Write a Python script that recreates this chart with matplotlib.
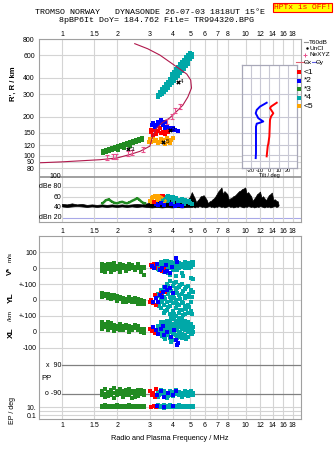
import numpy as np
import matplotlib
matplotlib.use('Agg')
import matplotlib.pyplot as plt

W, H = 335, 451
plt.rcParams['font.family'] = ['Liberation Sans', 'DejaVu Sans']
plt.rcParams['font.size'] = 5

RED, BLUE, GREEN, CYAN, ORANGE = '#ff0000', '#0000ff', '#228b22', '#00a8a8', '#ffa500'
CURVE, NEXYZ = '#b0184c', '#e8508c'
GRID, FRAME = '#d4d4d4', '#a0a0a0'

freq_ticks = [1, 1.5, 2, 3, 4, 5, 6, 7, 8, 10, 12, 14, 16, 18]
freq_labels = ['1', '1.5', '2', '3', '4', '5', '6', '7', '8', '10', '12', '14', '16', '18']
range_ticks = [80, 90, 100, 120, 150, 200, 300, 400, 600, 800]

# ---- upper panel: virtual range R' (km) vs frequency (MHz)
curve_f = [0.75, 1.0, 1.61, 2.0, 2.34, 2.66, 2.86, 3.01, 3.12, 3.24, 3.50, 3.86, 4.22, 4.55,
           4.84, 5.07, 5.02, 4.78, 4.38, 3.86, 3.41, 2.93, 2.49]
curve_r = [88, 89.5, 93, 96, 102, 108, 114, 118.5, 142, 160, 179, 196, 221, 246,
           284, 334, 385, 428, 468, 531, 601, 672, 736]

nexyz_f = [1.75, 1.89, 1.98, 2.29, 2.42, 2.75, 3.71, 3.95, 4.11, 4.38]
nexyz_r = [96, 98, 99, 104, 105, 112, 183, 202, 225, 239]

green_r_f = [1.67, 1.67, 1.73, 1.73, 1.80, 1.80, 1.87, 1.87, 1.94, 1.94, 2.02, 2.02, 2.02, 2.09, 2.09,
             2.17, 2.17, 2.17, 2.26, 2.26, 2.34, 2.34, 2.34, 2.43, 2.43, 2.53, 2.53, 2.62, 2.62, 2.72, 2.72]
green_r = [104.5, 108, 106.5, 110, 108, 112, 110, 114, 112, 116, 114, 118.5, 110, 116, 121,
           118.5, 123, 114, 121, 125, 123, 127, 118.5, 125, 130, 127, 132, 130, 134.5, 132, 137]

cyan_r_f = [3.33, 3.33, 3.41, 3.41, 3.50, 3.50, 3.50, 3.58, 3.58, 3.58, 3.67, 3.67, 3.67,
            3.77, 3.77, 3.77, 3.86, 3.86, 3.86, 3.96, 3.96, 3.96, 3.96, 4.06, 4.06, 4.06, 4.06,
            4.17, 4.17, 4.17, 4.17, 4.27, 4.27, 4.27, 4.27, 4.38, 4.38, 4.38, 4.38,
            4.49, 4.49, 4.49, 4.49, 4.60, 4.60, 4.60, 4.60, 4.72, 4.72, 4.72, 4.72,
            4.84, 4.84, 4.84, 4.84, 4.96, 4.96, 4.96, 5.09, 5.09]
cyan_r = [284, 294, 294, 311, 311, 328, 300, 322, 340, 311, 340, 358, 322,
          352, 371, 334, 371, 392, 352, 385, 406, 365, 428, 399, 421, 444, 378,
          421, 444, 468, 399, 436, 460, 485, 413, 460, 485, 512, 436,
          477, 503, 531, 452, 494, 521, 550, 468, 521, 550, 580, 494,
          540, 570, 601, 512, 560, 591, 623, 580, 612]

blue_r_f = [3.14, 3.35, 3.47, 3.71, 3.86, 4.11, 4.28, 3.21, 3.55, 3.47, 3.63, 3.63, 3.94, 4.02, 3.30, 3.09]
blue_r = [179, 183, 179, 168, 163, 158, 156, 168, 174, 188, 183, 163, 158, 163, 174, 174]
red_r_f = [3.07, 3.21, 3.27, 3.41, 3.55, 3.71, 3.14, 3.35, 3.47, 3.63, 3.04, 3.78]
red_r = [153, 158, 148, 163, 153, 158, 144, 156, 150, 148, 158, 153]
orange_r_f = [3.01, 3.14, 3.27, 3.41, 3.55, 3.78, 3.94, 3.35, 3.63, 3.07, 4.02, 3.21, 3.47, 3.71, 2.98, 3.86]
orange_r = [135, 139, 132, 128, 132, 128, 132, 125, 123, 128, 138, 130, 134, 136, 128, 125]

centre_f = [2.29, 3.86, 4.28, 3.55]
centre_r = [112, 158, 372, 128]
centre_lab = ['3', '2', '4', '5']

# tilt inset (deg vs km)
tilt_x_r = [256, 239, 225, 212, 194, 183, 178, 176, 167, 104, 95]
tilt_x = [-2.9, -10.1, -13.7, -14.8, -12.0, -6.6, -11.2, -13.7, -14.5, -14.5, -14.8]
tilt_y_r = [256, 239, 232, 212, 200, 188, 140, 123, 117, 98]
tilt_y = [8.0, 1.8, 0.7, 4.3, 1.8, 0.7, 0.0, -1.1, -1.8, -2.9]

# ---- amplitude strip (dB)
noise_f = [1.0, 1.065, 1.133, 1.206, 1.284, 1.367, 1.455, 1.549, 1.649, 1.755, 1.869, 1.989, 2.118,
           2.254, 2.40, 2.555, 2.72, 2.895, 3.08, 3.28, 3.50, 3.72, 3.96, 4.22, 4.49, 4.78, 4.96,
           5.09, 5.18, 5.28, 5.38, 5.48, 5.58, 5.69, 5.79, 5.90, 6.01, 6.13, 6.24, 6.36, 6.48, 6.60,
           6.72, 6.85, 6.98, 7.11, 7.24, 7.38, 7.52, 7.66, 7.80, 7.95, 8.10, 8.25, 8.40, 8.56, 8.72,
           8.89, 9.05, 9.22, 9.39, 9.57, 9.75, 9.94, 10.12, 10.31, 10.50, 10.70, 10.90, 11.11, 11.32,
           11.53, 11.74, 11.96, 12.19, 12.42, 12.65, 12.89, 13.13, 13.37, 13.62, 13.88, 14.14, 14.41,
           14.68, 14.95, 15.1]
noise_hi = [47, 46, 48, 46, 47, 45, 46, 45, 46, 45, 46, 45, 46, 45, 46, 47, 46, 48, 50, 52, 55, 58, 62,
            56, 58, 54, 60,
            70, 64, 58, 50, 54, 57, 62, 62, 64, 60, 55, 48, 52, 53, 56, 58, 62, 67, 72, 75, 79, 66, 72,
            69, 66, 55, 58, 59, 62, 63, 66, 69, 72, 73, 76, 77, 79, 67, 70, 66, 62, 53, 57, 61, 66, 68,
            71, 59, 62, 58, 54, 59, 64, 66, 69, 55, 56, 53, 52, 45]
noise_lo = [42, 41, 42, 43, 42, 41, 42, 41, 42, 41, 42, 41, 42, 41, 42, 41, 42, 41, 40, 41, 40, 41, 40,
            41, 40, 41, 41,
            41, 42, 40, 42, 41, 43, 42, 41, 42, 40, 41, 42, 43, 41, 42, 40, 42, 41, 43, 42, 41, 42, 40,
            41, 42, 43, 41, 42, 40, 41, 42, 41, 43, 42, 41, 40, 42, 41, 43, 42, 41, 42, 40, 41, 42, 41,
            43, 42, 41, 40, 42, 41, 42, 40, 41, 42, 43, 41, 42, 44]

green_db_f = [1.66, 1.70, 1.73, 1.77, 1.80, 1.84, 1.88, 1.93, 2.00, 2.06, 2.13, 2.20, 2.26, 2.33, 2.41,
              2.48, 2.57, 2.64, 2.71, 2.77, 2.83]
green_db = [48, 51, 54, 55, 56, 53, 51, 49, 48, 50, 51, 49, 48, 50, 53, 55, 58, 55, 51, 49, 48]
orange_db_f = [3.03, 3.08, 3.14, 3.20, 3.27, 3.35, 3.41, 3.50, 3.58, 3.66, 3.10, 3.30, 3.45]
orange_db = [52, 58, 60, 62, 61, 63, 62, 60, 57, 53, 50, 55, 55]
cyan_db_f = [3.55, 3.62, 3.70, 3.78, 3.86, 3.94, 4.02, 4.10, 4.20, 4.30, 4.40, 4.50, 4.60, 4.70, 4.80,
             4.90, 5.00, 5.08, 3.80, 4.00, 4.30, 4.60]
cyan_db = [55, 58, 60, 62, 60, 58, 60, 56, 58, 55, 53, 56, 52, 55, 50, 53, 49, 47, 52, 50, 48, 46]
blue_db_f = [3.25, 3.35, 3.45, 3.60, 3.90, 4.10, 4.30, 4.50]
blue_db = [47, 45, 48, 44, 46, 43, 44, 42]
red_db_f = [3.50, 3.56, 3.15]
red_db = [62, 63, 50]

# ---- lower panel: V* (m/s), YL, XL (km), PP (deg), EP (deg)
green_cols = [1.65, 1.71, 1.78, 1.85, 1.92, 1.99, 2.07, 2.14, 2.23, 2.31, 2.40, 2.49, 2.59, 2.69, 2.79]
green_v = [[10, -15, 30, 0], [0, 20, -25, 8], [15, -5, 25], [25, 0, -20, 10], [5, 35, -10, 15], [-5, 15, 5],
           [10, -20, 30, 0], [0, 20, 10], [5, -15, 15], [15, -5, 30, 5], [0, 20, 10], [10, -10, 0],
           [5, 25, 12], [-20, 0, 10], [10, -40, 0]]
green_yl = [[30, 45, 20], [25, 40, 32], [35, 15, 25], [20, 30, 5], [15, 30, 22], [10, 25, -5],
            [5, 20, 12], [0, 15, -15], [5, -10, -2], [10, -5, 20], [0, -15, 8], [-5, 10, -12],
            [-10, 5, -25], [-15, 0, -22], [-20, -5, -28]]
green_xl = [[40, 20, 60, 30], [30, 50, 40], [45, 15, 65, 30], [35, 55, 25], [25, 45, 5, 35], [40, 20, 30],
            [30, 50, 10, 40], [35, 15, 25], [25, 45, 35], [20, 40, 0, 30], [30, 10, 20], [25, 45, 35],
            [15, 35, 25], [20, 0, 10], [10, -5, 20]]
green_pp = [[-70, -100, -85], [-90, -60, -110], [-80, -105, -92], [-65, -95, -80], [-85, -115, -55],
            [-75, -100, -88], [-90, -60, -75], [-70, -110, -92], [-95, -80, -65], [-60, -100, -82],
            [-85, -115, -70], [-75, -95, -108], [-65, -105, -88], [-90, -80, -68], [-100, -70, -85]]
green_ep = [[10, 20], [12, 25], [9, 18], [11, 22], [10, 20], [13, 24], [9, 17], [12, 21], [10, 19],
            [11, 23], [9, 18], [12, 20], [10, 22], [11, 19], [10, 20]]

cyan_cols = [3.33, 3.45, 3.58, 3.72, 3.86, 4.01, 4.17, 4.32, 4.49, 4.66, 4.84, 5.02, 5.15]
cyan_v = [[10, 30, -5], [25, 40, 0], [15, 35, -20], [30, 10, 45], [20, 0, 40, -40], [35, 15, -10],
          [25, 45, 5, -50], [20, 35, 0], [30, 10, -30], [25, 40, 5], [20, 0, 35], [30, 10, -60], [40, 20]]
cyan_yl = [[40, -20], [60, 10, -50], [80, 20, -30, -80], [100, 50, -10, -60], [120, 70, 20, -40, -90],
           [90, 30, -20, -70], [110, 60, 0, -50, -100], [80, 30, -30, -80], [100, 40, -10, -60],
           [70, 10, -40, -90], [90, 20, -30, -80], [60, -10, -70], [130, 50]]
cyan_xl = [[40, 10], [60, 20, -10], [50, 30, 0, -30], [70, 40, 10, -20], [60, 30, 0, -40],
           [80, 50, 20, -10, -50], [70, 40, 10, -20], [90, 60, 30, 0, -30], [80, 50, 20, -10, -40],
           [70, 40, 10, -20], [60, 30, 0, -30], [50, 20, -10], [30, 0]]
cyan_pp = [[-80, -110], [-90, -65], [-100, -75], [-85, -115], [-95, -70], [-80, -105], [-90, -65],
           [-100, -80], [-85, -110], [-95, -70], [-80, -105], [-90, -75], [-85, -100]]
cyan_ep = [[8, 15, 25], [10, 20], [7, 14, 24], [9, 18], [8, 16, 26], [11, 21], [8, 15], [10, 19, 28],
           [9, 17], [8, 22], [10, 16], [9, 20], [12, 18]]

# second, interleaved set of cyan columns
cyan_cols_b = [3.39, 3.52, 3.65, 3.79, 3.93, 4.09, 4.25, 4.40, 4.57, 4.75, 4.93, 5.08]
cyan_v_b = [[18, -8], [32, 5], [22, 48], [12, -28], [28, 40], [8, 30], [38, -12], [15, 28], [22, -45],
            [33, 12], [25, 5], [18, 38]]
cyan_yl_b = [[25, -35], [45, -15], [65, 5, -70], [85, 35, -45], [55, -5, -110], [105, 15, -85],
             [75, 45, -25], [95, 5, -65], [55, -20, -95], [80, 25, -55], [40, -45], [20, -90]]
cyan_xl_b = [[25, -5], [45, 5, -25], [65, 15, -45], [55, 25, -5], [45, 15, -65], [85, 35, 5],
             [55, 25, -35], [75, 45, -5], [65, 35, -25], [45, 15, -45], [40, 5], [20, -15]]
cyan_pp_b = [[-95], [-78], [-88], [-102], [-83], [-93], [-77], [-98], [-86], [-92], [-80], [-95]]
cyan_ep_b = [[12], [15], [11], [13], [18], [12], [20], [14], [12], [16], [13], [11]]

red_v_f = [3.05, 3.10, 3.15, 3.20, 3.41, 3.50, 3.58]
red_v = [20, 10, 25, 5, -5, -15, 0]
blue_v_f = [3.09, 3.18, 3.30, 3.40, 3.52, 3.62, 3.75, 3.86, 3.95, 4.20, 4.25, 3.70]
blue_v = [15, 0, 30, -10, 5, -25, -15, -30, 10, 66, 41, 20]
red_yl_f = [3.07, 3.12, 3.21, 3.27, 3.47, 3.63, 3.03]
red_yl = [0, -21, 31, -31, 42, 52, -10]
blue_yl_f = [3.14, 3.27, 3.41, 3.55, 3.71, 3.86, 3.63, 4.02, 3.33, 3.50]
blue_yl = [-10, 10, 31, 52, 62, 73, 83, 42, -10, 20]
red_xl_f = [3.03, 3.08, 3.14, 3.20, 3.27]
red_xl = [20, 5, 15, -5, 10]
blue_xl_f = [3.14, 3.25, 3.35, 3.45, 3.60, 3.75, 3.90, 4.05, 4.20, 4.28, 4.25, 3.55]
blue_xl = [30, 10, -10, 20, -20, 0, -30, 15, -50, -70, -80, 40]
red_pp_f = [3.03, 3.08, 3.14, 3.20, 3.27]
red_pp = [-70, -100, -85, -110, -60]
blue_pp_f = [3.30, 3.45, 3.60, 3.80, 4.00, 4.20]
blue_pp = [-95, -75, -110, -85, -100, -70]
red_ep_f = [3.05, 3.15, 3.25]
red_ep = [12, 20, 8]
blue_ep_f = [3.30, 3.60, 4.00]
blue_ep = [15, 10, 20]

# row layout of the lower panel (axis units, increasing downwards)
V_ZERO, YL_ZERO, XL_ZERO, SCALE = 268.3, 300.0, 332.0, 0.16
PP_ZERO, PP_SCALE = 379.5, 0.158
EP_ZERO, EP_SCALE = 411.15, 4.15


def row(vals, zero, scale=SCALE):
    return zero - scale * np.asarray(vals, float)


def ep_row(vals):
    return EP_ZERO - EP_SCALE * np.log10(np.asarray(vals, float))


def expand(cols, vals):
    fs, vs = [], []
    for f, vv in zip(cols, vals):
        for v in vv:
            fs.append(f)
            vs.append(v)
    return fs, vs


fig = plt.figure(figsize=(W / 100, H / 100), dpi=100)


def rect(x0, y0, x1, y1):
    return [x0 / W, 1 - y1 / H, (x1 - x0) / W, (y1 - y0) / H]


ax_r = fig.add_axes(rect(39, 39, 301, 172))
ax_db = fig.add_axes(rect(39, 172, 301, 221.7))
ax_lo = fig.add_axes(rect(39, 235.7, 301, 419.3))
ax_tilt = fig.add_axes(rect(241.7, 65, 297, 167.7))


def freq_axis(ax):
    ax.set_xscale('log')
    ax.set_xlim(0.75, 20)
    ax.set_xticks(freq_ticks)
    ax.set_xticklabels(freq_labels)
    ax.xaxis.set_minor_locator(plt.NullLocator())
    ax.grid(True, axis='x', color=GRID, lw=0.8)
    ax.tick_params(length=0)
    ax.set_axisbelow(True)
    for s in ax.spines.values():
        s.set_color(FRAME)
        s.set_linewidth(0.8)


SQ = dict(marker='s', s=5, linewidths=0)

# upper panel
freq_axis(ax_r)
ax_r.set_yscale('log')
ax_r.set_ylim(74.7, 800)
ax_r.set_yticks(range_ticks)
ax_r.set_yticklabels([str(t) for t in range_ticks])
ax_r.yaxis.set_minor_locator(plt.NullLocator())
ax_r.grid(True, axis='y', color=GRID, lw=0.8)
ax_r.xaxis.tick_top()
ax_r.tick_params(axis='x', length=0, pad=1)
ax_r.tick_params(axis='y', length=0, pad=3)
ax_r.spines['bottom'].set_visible(False)

ax_r.plot(curve_f, curve_r, color=CURVE, lw=0.8)
nr = np.array(nexyz_r, float)
ax_r.errorbar(nexyz_f, nexyz_r, yerr=[nr - nr / 1.045, nr * 0.045], fmt='none',
              ecolor=NEXYZ, elinewidth=0.8, capsize=1.3, capthick=0.8)
ax_r.scatter(green_r_f, green_r, color=GREEN, **SQ)
ax_r.scatter(cyan_r_f, cyan_r, color=CYAN, **SQ)
ax_r.scatter(orange_r_f, orange_r, color=ORANGE, **SQ)
ax_r.scatter(red_r_f, red_r, color=RED, **SQ)
ax_r.scatter(blue_r_f, blue_r, color=BLUE, **SQ)
ax_r.scatter(centre_f, centre_r, marker='X', s=10, color='black', linewidths=0)
for f, r, lab in zip(centre_f, centre_r, centre_lab):
    ax_r.text(f * 1.03, r, lab, fontsize=4.5, va='center', ha='left')

# dB strip
freq_axis(ax_db)
ax_db.set_ylim(12.2, 109.2)
ax_db.set_yticks([])
ax_db.tick_params(axis='x', pad=4.2)
ax_db.spines['top'].set_visible(False)
ax_db.axhline(100, color='#909090', lw=1.2)
for v, c in [(80, GRID), (60, GRID), (40, GRID), (20, '#a8a8e8')]:
    ax_db.axhline(v, xmin=0.0876, color=c, lw=0.8, zorder=0.5)
for v, lab in [(100, '100'), (80, 'dBe 80'), (60, '60'), (40, '40'), (20, 'dBn 20')]:
    ax_db.text(0.99, v, lab, ha='right', va='center', fontsize=5)
ax_db.fill_between(noise_f, noise_lo, noise_hi, color='black', lw=0.5)
ax_db.plot(green_db_f, green_db, color=GREEN, lw=1.8, marker='s', ms=1.8, mew=0)
ax_db.plot(orange_db_f[:10], orange_db[:10], color=ORANGE, lw=1.8)
ax_db.scatter(orange_db_f, orange_db, color=ORANGE, **SQ)
ax_db.scatter(cyan_db_f, cyan_db, color=CYAN, **SQ)
ax_db.plot(cyan_db_f[:18], cyan_db[:18], color=CYAN, lw=1.6)
ax_db.scatter(blue_db_f, blue_db, color=BLUE, **SQ)
ax_db.scatter(red_db_f, red_db, color=RED, **SQ)

# tilt inset
ax_tilt.set_facecolor('white')
ax_tilt.set_yscale('log')
ax_tilt.set_ylim(80.2, 503)
ax_tilt.set_xlim(-30, 30)
ax_tilt.set_yticks(range_ticks[:-2])
ax_tilt.set_yticklabels([])
ax_tilt.yaxis.set_minor_locator(plt.NullLocator())
ax_tilt.set_xticks([-20, -10, 0, 10, 20])
ax_tilt.set_xticklabels(['-20', '-10', '0', '10', '20'], fontsize=4)
ax_tilt.tick_params(length=0, pad=0.5)
ax_tilt.grid(True, color='#c8c8d4', lw=0.8)
ax_tilt.set_axisbelow(True)
ax_tilt.set_xlabel('Tilt / deg', fontsize=4, labelpad=0)
for s in ax_tilt.spines.values():
    s.set_color('#a8a8b8')
    s.set_linewidth(0.9)
ax_tilt.plot(tilt_x, tilt_x_r, color=BLUE, lw=1.4)
ax_tilt.plot(tilt_y, tilt_y_r, color=RED, lw=1.4)

# lower panel
freq_axis(ax_lo)
ax_lo.set_ylim(419.3, 235.7)
lo_ticks = [row(100, V_ZERO), row(0, V_ZERO), row(-100, V_ZERO), row(0, YL_ZERO), row(-100, YL_ZERO),
            row(0, XL_ZERO), row(-100, XL_ZERO), ep_row(10), ep_row(0.1)]
ax_lo.set_yticks([float(t) for t in lo_ticks])
ax_lo.set_yticklabels(['100', '0', '+-100', '0', '+-100', '0', '-100', '10.', '0.1'])
ax_lo.tick_params(axis='y', pad=1.7)
ax_lo.tick_params(axis='x', pad=2)
for t in lo_ticks + [ep_row(1)]:
    ax_lo.axhline(float(t), color=GRID, lw=0.8, zorder=0.5)
for v, lab in [(90, 'x  90'), (-90, 'o -90')]:
    ax_lo.axhline(float(row(v, PP_ZERO, PP_SCALE)), xmin=0.0876, color='#808080', lw=0.9, zorder=0.6)
    ax_lo.text(0.99, float(row(v, PP_ZERO, PP_SCALE)), lab, ha='right', va='center', fontsize=5)

groups = [(green_cols, [green_v, green_yl, green_xl, green_pp, green_ep], GREEN),
          (cyan_cols, [cyan_v, cyan_yl, cyan_xl, cyan_pp, cyan_ep], CYAN),
          (cyan_cols_b, [cyan_v_b, cyan_yl_b, cyan_xl_b, cyan_pp_b, cyan_ep_b], CYAN)]
for cols, data, color in groups:
    for (zero, scale), vals in zip([(V_ZERO, SCALE), (YL_ZERO, SCALE), (XL_ZERO, SCALE),
                                    (PP_ZERO, PP_SCALE)], data[:4]):
        fs, vs = expand(cols, vals)
        ax_lo.scatter(fs, row(vs, zero, scale), color=color, **SQ)
    fs, vs = expand(cols, data[4])
    ax_lo.scatter(fs, ep_row(vs), color=color, **SQ)

for color, sets in [(RED, [(red_v_f, red_v, V_ZERO), (red_yl_f, red_yl, YL_ZERO), (red_xl_f, red_xl, XL_ZERO)]),
                    (BLUE, [(blue_v_f, blue_v, V_ZERO), (blue_yl_f, blue_yl, YL_ZERO), (blue_xl_f, blue_xl, XL_ZERO)])]:
    for fs, vs, zero in sets:
        ax_lo.scatter(fs, row(vs, zero), color=color, **SQ)
ax_lo.scatter(red_pp_f, row(red_pp, PP_ZERO, PP_SCALE), color=RED, **SQ)
ax_lo.scatter(blue_pp_f, row(blue_pp, PP_ZERO, PP_SCALE), color=BLUE, **SQ)
ax_lo.scatter(red_ep_f, ep_row(red_ep), color=RED, **SQ)
ax_lo.scatter(blue_ep_f, ep_row(blue_ep), color=BLUE, **SQ)

# decoration layer in pixel coordinates
deco = fig.add_axes([0, 0, 1, 1], zorder=10)
deco.set_xlim(0, W)
deco.set_ylim(H, 0)
deco.axis('off')

mono = ['Liberation Mono', 'DejaVu Sans Mono']
deco.text(150, 12, 'TROMSO NORWAY   DYNASONDE 26-07-03 1818UT 15°E', family=mono, fontsize=6,
          ha='center', va='center')
deco.text(156.7, 20.5, '8pBP6It DoY= 184.762 File= TR994320.BPG', family=mono, fontsize=6,
          ha='center', va='center')
deco.text(302.5, 7.3, 'HPTx is OFF!', family=mono, fontsize=5.8, color='red', ha='center', va='center',
          bbox=dict(boxstyle='square,pad=0.15', facecolor='#ffff00', edgecolor='red', lw=0.8))

deco.text(13.5, 84, "R', R / km", rotation=90, ha='center', va='center', fontsize=5.5, weight='bold')
deco.text(10, 271, 'V*', rotation=90, ha='center', va='center', fontsize=5.5, weight='bold')
deco.text(10, 257, 'm/s', rotation=90, ha='center', va='center', fontsize=4.5)
deco.text(11.5, 298, 'YL', rotation=90, ha='center', va='center', fontsize=6, weight='bold')
deco.text(10.5, 316, '/km', rotation=90, ha='center', va='center', fontsize=4.5)
deco.text(11.5, 333, 'XL', rotation=90, ha='center', va='center', fontsize=6, weight='bold')
deco.text(46.3, 379, 'PP', ha='center', va='center', fontsize=5.5)
deco.text(13, 410, 'EP / deg', rotation=90, ha='center', va='center', fontsize=5)
deco.text(170, 439, 'Radio and Plasma Frequency / MHz', ha='center', va='center', fontsize=5.3)

# legend
LEG = 4.6
deco.plot([304, 308], [42.3, 42.3], color='#909090', lw=0.8)
deco.text(309, 42.3, 'T60dB', va='center', fontsize=LEG)
deco.plot([306.7], [48], marker='.', color='black', ms=1.5)
deco.text(310, 48, 'UnCl', va='center', fontsize=LEG)
deco.plot([305], [54.5], marker='+', color=NEXYZ, ms=3, mew=0.7)
deco.text(309, 54.5, 'NeXYZ', va='center', fontsize=LEG)
deco.plot([296, 303.5], [62.3, 62.3], color='#e06070', lw=0.8)
deco.text(304, 62.3, 'Θx', va='center', fontsize=LEG)
deco.plot([311.5, 316], [62.3, 62.3], color='#6060e0', lw=0.8)
deco.text(316, 62.3, 'Θy', va='center', fontsize=LEG)
for yy, c, lab in zip([72.3, 80.7, 89.3, 97.7, 106], [RED, BLUE, GREEN, CYAN, ORANGE],
                      ['<1', '*2', '*3', '*4', '<5']):
    deco.scatter([299], [yy], marker='s', s=5, color=c, linewidths=0)
    deco.text(303.5, yy, lab, va='center', fontsize=6)

fig.savefig('out.png', dpi=100)
